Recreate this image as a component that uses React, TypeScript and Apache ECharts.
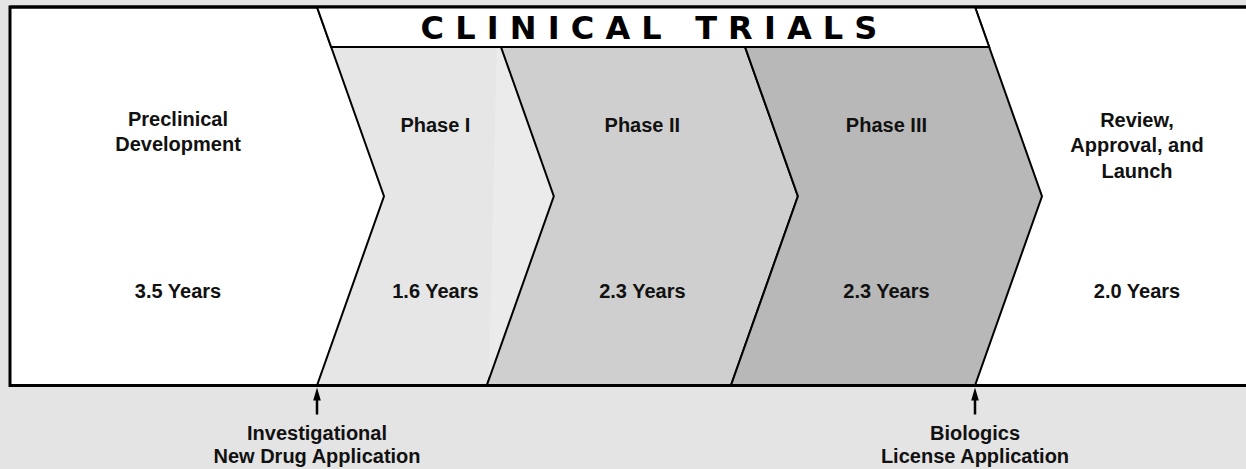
import React, { useEffect, useRef } from "react";
import * as echarts from "echarts";

// ---- data ----
const stageNames = [
  "Preclinical\nDevelopment",
  "Phase I",
  "Phase II",
  "Phase III",
  "Review,\nApproval, and\nLaunch",
];
const stageYears = [3.5, 1.6, 2.3, 2.3, 2.0];
const headerTitle = "CLINICAL TRIALS";
const milestoneNames = [
  "Investigational\nNew Drug Application",
  "Biologics\nLicense Application",
];

// ---- layout / style ----
const W = 1246;
const H = 469;
const TOP = 7;
const BOT = 385.5;
const MID = (TOP + BOT) / 2;
const HEAD_BOT = 47;
const D = 67; // chevron point depth
const HEAD_D = ((HEAD_BOT - TOP) * D) / (MID - TOP);
const GRID_L = 317;
const GRID_RPX = 975;
const FRAME_L = 10;
const BG = "#e4e4e4";
const phaseFills = ["#e6e6e6", "#cfcfcf", "#b8b8b8"];
const FONT = "'Liberation Sans', Arial, sans-serif";
const TXT = "#111";
const LABEL_Y = 125;
const SIDE_LABEL_Y = [131, 145];
const YEARS_Y = 291;

const yearsText = (v: number) => `${v.toFixed(1)} Years`;

export default function App() {
  const ref = useRef<HTMLDivElement>(null);

  useEffect(() => {
    if (!ref.current) return;
    const chart = echarts.init(ref.current, undefined, { renderer: "svg" });

    // phases: stages 1..3, placed on a years axis
    const phaseIdx = [1, 2, 3];
    let acc = 0;
    const phaseData = phaseIdx.map((i) => {
      const s = acc;
      acc += stageYears[i];
      return [s, acc];
    });
    const totalClinical = acc;
    const milestoneData = [[0], [totalClinical]];

    const spaced = headerTitle
      .split(" ")
      .map((w) => w.split("").join(" "))
      .join("   ");

    const labelStyle = (text: string, x: number, y: number, lh = 25) => ({
      type: "text",
      x,
      y,
      style: {
        text,
        fill: TXT,
        font: `bold 20px ${FONT}`,
        align: "center",
        verticalAlign: "middle",
        lineHeight: lh,
      },
    });

    chart.setOption({
      animation: false,
      backgroundColor: BG,
      grid: { left: GRID_L, right: W - GRID_RPX, top: TOP, bottom: H - BOT },
      xAxis: { type: "value", min: 0, max: totalClinical, show: false },
      yAxis: { type: "value", min: 0, max: 1, show: false },
      graphic: [
        {
          type: "rect",
          z: 0,
          shape: { x: FRAME_L, y: TOP, width: W + 20, height: BOT - TOP },
          style: { fill: "#fff", stroke: "#000", lineWidth: 3 },
        },
        {
          type: "polygon",
          z: 50,
          shape: {
            points: [
              [GRID_L, TOP],
              [GRID_RPX, TOP],
              [GRID_RPX + HEAD_D, HEAD_BOT],
              [GRID_L + HEAD_D, HEAD_BOT],
            ],
          },
          style: { fill: "#fff", stroke: "#000", lineWidth: 2 },
        },
        {
          type: "line",
          z: 51,
          shape: { x1: FRAME_L, y1: TOP, x2: W + 10, y2: TOP },
          style: { stroke: "#000", lineWidth: 3 },
        },
        {
          type: "line",
          z: 51,
          shape: { x1: FRAME_L, y1: BOT, x2: W + 10, y2: BOT },
          style: { stroke: "#000", lineWidth: 3 },
        },
        {
          type: "text",
          z: 52,
          x: 649,
          y: (TOP + HEAD_BOT) / 2 + 0.5,
          style: {
            text: spaced,
            fill: "#000",
            font: `bold 32px 'DejaVu Sans', sans-serif`,
            align: "center",
            verticalAlign: "middle",
          },
        },
        { ...labelStyle(stageNames[0], 178, SIDE_LABEL_Y[0]), z: 52 },
        { ...labelStyle(yearsText(stageYears[0]), 178, YEARS_Y), z: 52 },
        { ...labelStyle(stageNames[4], 1137, SIDE_LABEL_Y[1], 25.5), z: 52 },
        { ...labelStyle(yearsText(stageYears[4]), 1137, YEARS_Y), z: 52 },
      ],
      series: [
        {
          type: "custom",
          z: 10,
          data: phaseData,
          renderItem: (params: any, api: any) => {
            const k = params.dataIndex;
            const xs = api.coord([api.value(0), 0])[0];
            const xe = api.coord([api.value(1), 0])[0];
            const children: any[] = [];
            children.push({
              type: "polygon",
              shape: {
                points: [
                  [xs, TOP],
                  [xe, TOP],
                  [xe + D, MID],
                  [xe, BOT],
                  [xs, BOT],
                  [xs + D, MID],
                ],
              },
              style: { fill: phaseFills[k], stroke: "#000", lineWidth: 2 },
            });
            if (k === 0) {
              children.push({
                type: "polygon",
                shape: {
                  points: [
                    [xe + 10, HEAD_BOT],
                    [xe + 90, HEAD_BOT],
                    [xe + 90, BOT - 2],
                    [xe + 2, BOT - 2],
                  ],
                },
                style: { fill: "#ebebeb" },
              });
            }
            const cx = (xs + xe) / 2 + D / 2;
            children.push(labelStyle(stageNames[phaseIdx[k]], cx, LABEL_Y));
            children.push(labelStyle(yearsText(stageYears[phaseIdx[k]]), cx, YEARS_Y));
            return { type: "group", children };
          },
        },
        {
          type: "custom",
          z: 60,
          data: milestoneData,
          renderItem: (params: any, api: any) => {
            const x = api.coord([api.value(0), 0])[0];
            return {
              type: "group",
              children: [
                {
                  type: "polygon",
                  shape: {
                    points: [
                      [x, BOT + 2],
                      [x - 3.8, BOT + 15],
                      [x + 3.8, BOT + 15],
                    ],
                  },
                  style: { fill: "#000" },
                },
                {
                  type: "line",
                  shape: { x1: x, y1: BOT + 12, x2: x, y2: BOT + 29 },
                  style: { stroke: "#000", lineWidth: 2.5 },
                },
                labelStyle(milestoneNames[params.dataIndex], x, 444, 23),
              ],
            };
          },
        },
      ],
    });

    return () => chart.dispose();
  }, []);

  return (
    <div
      ref={ref}
      style={{ position: "fixed", left: 0, top: 0, width: W, height: H, background: BG }}
    />
  );
}
